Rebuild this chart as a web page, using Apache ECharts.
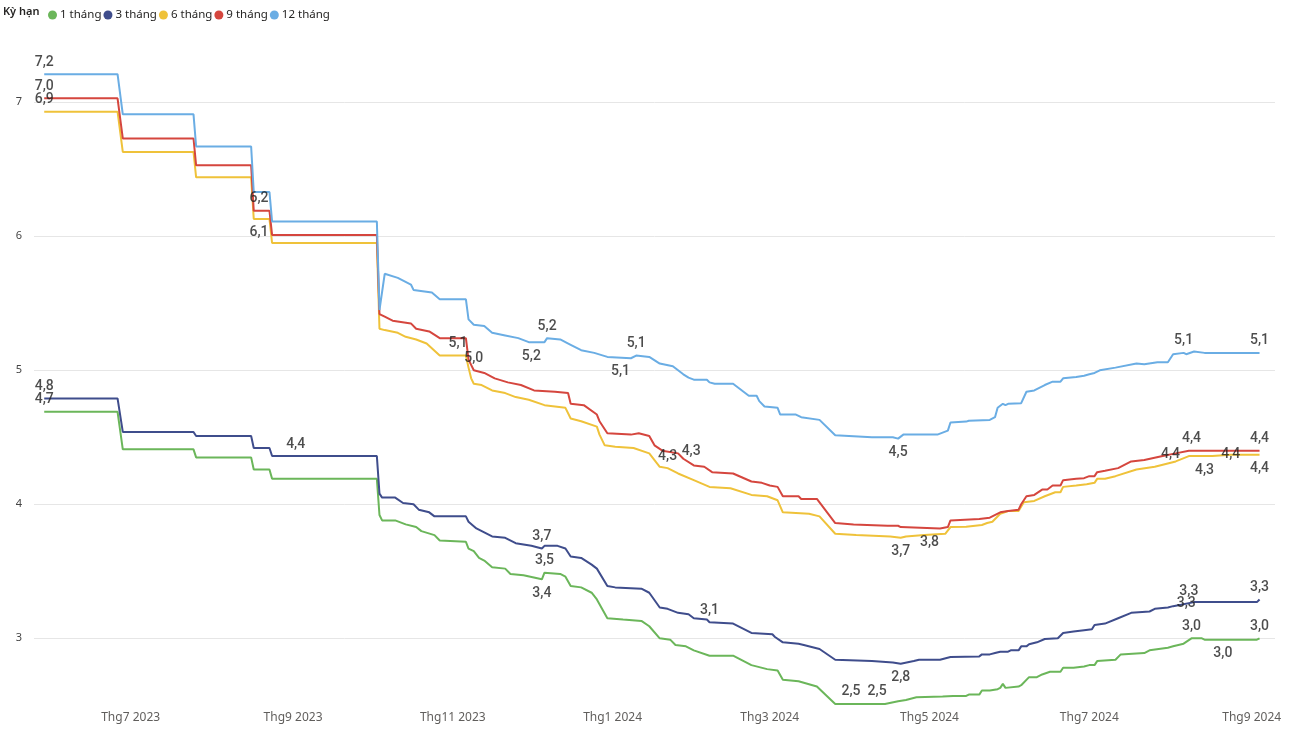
<!DOCTYPE html>
<html>
<head>
<meta charset="utf-8">
<script src="https://cdn.jsdelivr.net/npm/echarts/dist/echarts.min.js"></script>
<style>html,body{margin:0;padding:0;background:#fff}#c{width:1297px;height:734px}</style>
</head>
<body>
<div id="c"></div>
<script>
// ---------- DATA ----------
const seriesNames = ['1 tháng', '3 tháng', '6 tháng', '9 tháng', '12 tháng'];

const s1m = [['2023-05-29',4.69],['2023-06-26',4.69],['2023-06-28',4.41],['2023-07-25',4.41],['2023-07-26',4.35],['2023-08-16',4.35],['2023-08-17',4.26],['2023-08-23',4.26],['2023-08-24',4.19],['2023-10-03',4.19],['2023-10-04',3.92],['2023-10-05',3.88],['2023-10-10',3.88],['2023-10-14',3.85],['2023-10-18',3.83],['2023-10-20',3.80],['2023-10-25',3.77],['2023-10-27',3.73],['2023-11-06',3.72],['2023-11-07',3.67],['2023-11-09',3.65],['2023-11-11',3.60],['2023-11-13',3.58],['2023-11-16',3.53],['2023-11-21',3.52],['2023-11-23',3.48],['2023-11-28',3.47],['2023-12-05',3.44],['2023-12-06',3.49],['2023-12-12',3.48],['2023-12-14',3.46],['2023-12-16',3.39],['2023-12-20',3.38],['2023-12-24',3.34],['2023-12-26',3.29],['2023-12-30',3.15],['2024-01-05',3.14],['2024-01-12',3.13],['2024-01-15',3.09],['2024-01-19',3.00],['2024-01-23',2.99],['2024-01-25',2.95],['2024-01-29',2.94],['2024-02-01',2.91],['2024-02-07',2.87],['2024-02-16',2.87],['2024-02-23',2.80],['2024-02-29',2.77],['2024-03-04',2.76],['2024-03-06',2.69],['2024-03-12',2.68],['2024-03-19',2.64],['2024-03-26',2.51],['2024-04-14',2.51],['2024-04-19',2.53],['2024-04-22',2.54],['2024-04-26',2.56],['2024-05-06',2.565],['2024-05-10',2.57],['2024-05-15',2.57],['2024-05-16',2.58],['2024-05-20',2.58],['2024-05-21',2.61],['2024-05-24',2.61],['2024-05-27',2.62],['2024-05-28',2.63],['2024-05-29',2.66],['2024-05-30',2.63],['2024-06-04',2.64],['2024-06-05',2.65],['2024-06-08',2.71],['2024-06-11',2.71],['2024-06-13',2.73],['2024-06-16',2.75],['2024-06-20',2.75],['2024-06-21',2.78],['2024-06-25',2.78],['2024-06-29',2.79],['2024-07-01',2.80],['2024-07-03',2.80],['2024-07-04',2.83],['2024-07-11',2.84],['2024-07-13',2.88],['2024-07-22',2.89],['2024-07-24',2.91],['2024-07-31',2.93],['2024-08-02',2.94],['2024-08-06',2.96],['2024-08-09',3.00],['2024-08-13',3.00],['2024-08-14',2.99],['2024-09-03',2.99],['2024-09-04',3.00]];

const s3m = [['2023-05-29',4.79],['2023-06-26',4.79],['2023-06-28',4.54],['2023-07-25',4.54],['2023-07-26',4.51],['2023-08-16',4.51],['2023-08-17',4.42],['2023-08-23',4.42],['2023-08-24',4.36],['2023-10-03',4.36],['2023-10-04',4.08],['2023-10-05',4.05],['2023-10-10',4.05],['2023-10-13',4.01],['2023-10-17',4.00],['2023-10-19',3.96],['2023-10-23',3.94],['2023-10-25',3.91],['2023-11-06',3.91],['2023-11-07',3.87],['2023-11-10',3.82],['2023-11-16',3.76],['2023-11-21',3.75],['2023-11-25',3.71],['2023-12-01',3.69],['2023-12-05',3.67],['2023-12-06',3.69],['2023-12-11',3.69],['2023-12-14',3.67],['2023-12-16',3.61],['2023-12-20',3.60],['2023-12-24',3.55],['2023-12-26',3.52],['2023-12-30',3.39],['2024-01-02',3.38],['2024-01-12',3.37],['2024-01-15',3.34],['2024-01-19',3.23],['2024-01-22',3.22],['2024-01-26',3.19],['2024-01-30',3.18],['2024-02-01',3.15],['2024-02-06',3.14],['2024-02-07',3.12],['2024-02-16',3.11],['2024-02-23',3.04],['2024-03-02',3.03],['2024-03-03',3.01],['2024-03-06',2.97],['2024-03-12',2.96],['2024-03-14',2.95],['2024-03-20',2.92],['2024-03-26',2.84],['2024-04-09',2.83],['2024-04-17',2.82],['2024-04-20',2.81],['2024-04-25',2.83],['2024-04-27',2.84],['2024-05-05',2.84],['2024-05-09',2.86],['2024-05-20',2.865],['2024-05-21',2.88],['2024-05-24',2.88],['2024-05-26',2.89],['2024-05-28',2.90],['2024-05-31',2.90],['2024-06-01',2.91],['2024-06-04',2.91],['2024-06-05',2.94],['2024-06-07',2.94],['2024-06-08',2.955],['2024-06-11',2.97],['2024-06-14',2.995],['2024-06-19',3.00],['2024-06-21',3.04],['2024-06-25',3.05],['2024-06-29',3.06],['2024-07-02',3.067],['2024-07-03',3.10],['2024-07-07',3.11],['2024-07-12',3.15],['2024-07-17',3.19],['2024-07-24',3.20],['2024-07-26',3.22],['2024-07-31',3.23],['2024-08-02',3.24],['2024-08-05',3.25],['2024-08-10',3.27],['2024-08-22',3.27],['2024-09-03',3.27],['2024-09-04',3.29]];

const s6m = [['2023-05-29',6.93],['2023-06-26',6.93],['2023-06-28',6.63],['2023-07-25',6.63],['2023-07-26',6.44],['2023-08-16',6.44],['2023-08-17',6.13],['2023-08-23',6.13],['2023-08-24',5.95],['2023-10-03',5.95],['2023-10-04',5.31],['2023-10-06',5.30],['2023-10-11',5.28],['2023-10-14',5.25],['2023-10-18',5.23],['2023-10-22',5.20],['2023-10-27',5.11],['2023-11-06',5.11],['2023-11-07',5.02],['2023-11-08',4.94],['2023-11-09',4.90],['2023-11-12',4.89],['2023-11-16',4.85],['2023-11-21',4.83],['2023-11-25',4.80],['2023-11-30',4.78],['2023-12-06',4.74],['2023-12-10',4.73],['2023-12-14',4.72],['2023-12-16',4.64],['2023-12-20',4.62],['2023-12-26',4.58],['2023-12-27',4.52],['2023-12-29',4.44],['2024-01-02',4.43],['2024-01-09',4.42],['2024-01-15',4.38],['2024-01-19',4.28],['2024-01-22',4.27],['2024-01-26',4.23],['2024-02-01',4.18],['2024-02-07',4.13],['2024-02-15',4.12],['2024-02-23',4.07],['2024-02-29',4.06],['2024-03-04',4.03],['2024-03-06',3.94],['2024-03-16',3.93],['2024-03-20',3.91],['2024-03-26',3.78],['2024-04-03',3.77],['2024-04-16',3.76],['2024-04-20',3.75],['2024-04-22',3.76],['2024-04-29',3.77],['2024-05-07',3.78],['2024-05-09',3.83],['2024-05-15',3.833],['2024-05-21',3.846],['2024-05-23',3.86],['2024-05-25',3.87],['2024-05-28',3.93],['2024-05-31',3.95],['2024-06-04',3.95],['2024-06-06',4.015],['2024-06-10',4.025],['2024-06-14',4.06],['2024-06-18',4.09],['2024-06-20',4.09],['2024-06-21',4.13],['2024-06-26',4.14],['2024-06-30',4.15],['2024-07-03',4.16],['2024-07-04',4.19],['2024-07-07',4.19],['2024-07-11',4.21],['2024-07-19',4.26],['2024-07-26',4.28],['2024-08-03',4.32],['2024-08-08',4.36],['2024-08-17',4.36],['2024-08-24',4.37],['2024-09-04',4.37]];

const s9m = [['2023-05-29',7.03],['2023-06-26',7.03],['2023-06-28',6.73],['2023-07-25',6.73],['2023-07-26',6.53],['2023-08-16',6.53],['2023-08-17',6.19],['2023-08-23',6.19],['2023-08-24',6.01],['2023-10-03',6.01],['2023-10-04',5.42],['2023-10-06',5.40],['2023-10-09',5.37],['2023-10-16',5.35],['2023-10-18',5.31],['2023-10-23',5.29],['2023-10-27',5.24],['2023-11-06',5.24],['2023-11-07',5.08],['2023-11-09',5.00],['2023-11-13',4.98],['2023-11-17',4.94],['2023-11-22',4.91],['2023-11-27',4.89],['2023-12-02',4.85],['2023-12-10',4.84],['2023-12-15',4.83],['2023-12-16',4.75],['2023-12-21',4.74],['2023-12-26',4.67],['2023-12-27',4.62],['2023-12-30',4.53],['2024-01-08',4.52],['2024-01-11',4.53],['2024-01-15',4.51],['2024-01-17',4.44],['2024-01-20',4.40],['2024-01-26',4.38],['2024-01-28',4.34],['2024-02-01',4.29],['2024-02-05',4.28],['2024-02-08',4.24],['2024-02-16',4.23],['2024-02-23',4.17],['2024-02-27',4.16],['2024-03-01',4.14],['2024-03-04',4.13],['2024-03-06',4.06],['2024-03-12',4.06],['2024-03-13',4.04],['2024-03-19',4.04],['2024-03-26',3.86],['2024-04-02',3.85],['2024-04-15',3.84],['2024-04-19',3.84],['2024-04-20',3.83],['2024-05-05',3.82],['2024-05-08',3.83],['2024-05-09',3.88],['2024-05-20',3.89],['2024-05-24',3.90],['2024-05-28',3.94],['2024-05-31',3.95],['2024-06-04',3.96],['2024-06-05',4.00],['2024-06-07',4.06],['2024-06-10',4.07],['2024-06-13',4.11],['2024-06-15',4.11],['2024-06-17',4.14],['2024-06-20',4.14],['2024-06-21',4.18],['2024-06-26',4.19],['2024-06-29',4.195],['2024-07-01',4.21],['2024-07-03',4.21],['2024-07-04',4.24],['2024-07-07',4.25],['2024-07-12',4.27],['2024-07-17',4.32],['2024-07-22',4.33],['2024-07-29',4.36],['2024-08-03',4.38],['2024-08-08',4.40],['2024-09-04',4.40]];

const s12m = [['2023-05-29',7.21],['2023-06-26',7.21],['2023-06-28',6.91],['2023-07-25',6.91],['2023-07-26',6.67],['2023-08-16',6.67],['2023-08-17',6.33],['2023-08-23',6.33],['2023-08-24',6.11],['2023-10-03',6.11],['2023-10-04',5.45],['2023-10-06',5.72],['2023-10-11',5.69],['2023-10-16',5.64],['2023-10-17',5.60],['2023-10-24',5.58],['2023-10-27',5.53],['2023-11-06',5.53],['2023-11-07',5.38],['2023-11-09',5.34],['2023-11-13',5.33],['2023-11-16',5.28],['2023-11-21',5.26],['2023-11-26',5.24],['2023-11-30',5.21],['2023-12-06',5.21],['2023-12-07',5.24],['2023-12-12',5.23],['2023-12-16',5.19],['2023-12-20',5.15],['2023-12-25',5.13],['2023-12-30',5.10],['2024-01-08',5.09],['2024-01-10',5.11],['2024-01-15',5.10],['2024-01-19',5.05],['2024-01-24',5.03],['2024-01-28',4.97],['2024-01-30',4.945],['2024-02-01',4.93],['2024-02-06',4.93],['2024-02-07',4.91],['2024-02-09',4.90],['2024-02-16',4.90],['2024-02-22',4.81],['2024-02-25',4.81],['2024-02-26',4.77],['2024-02-28',4.73],['2024-03-04',4.72],['2024-03-05',4.67],['2024-03-11',4.67],['2024-03-13',4.65],['2024-03-20',4.63],['2024-03-26',4.515],['2024-04-09',4.50],['2024-04-17',4.50],['2024-04-19',4.49],['2024-04-21',4.52],['2024-05-04',4.52],['2024-05-08',4.55],['2024-05-09',4.61],['2024-05-15',4.617],['2024-05-16',4.624],['2024-05-24',4.63],['2024-05-26',4.65],['2024-05-27',4.72],['2024-05-29',4.75],['2024-05-30',4.74],['2024-05-31',4.75],['2024-06-05',4.755],['2024-06-07',4.84],['2024-06-10',4.85],['2024-06-14',4.89],['2024-06-17',4.915],['2024-06-20',4.915],['2024-06-21',4.94],['2024-06-26',4.95],['2024-06-29',4.96],['2024-07-01',4.97],['2024-07-03',4.98],['2024-07-05',5.00],['2024-07-11',5.02],['2024-07-19',5.05],['2024-07-22',5.045],['2024-07-27',5.06],['2024-07-31',5.06],['2024-08-02',5.12],['2024-08-06',5.13],['2024-08-07',5.12],['2024-08-10',5.14],['2024-08-14',5.13],['2024-09-04',5.13]];

// data labels shown on the chart: [series, date, text, placement]
const labelSpecs = [
  ['12 tháng','2023-05-29','7,2','top'],
  ['9 tháng','2023-05-29','7,0','top'],
  ['6 tháng','2023-05-29','6,9','top'],
  ['3 tháng','2023-05-29','4,8','top'],
  ['1 tháng','2023-05-29','4,7','top'],
  ['9 tháng','2023-08-19','6,2','top'],
  ['6 tháng','2023-08-19','6,1','bottom'],
  ['3 tháng','2023-09-02','4,4','top'],
  ['6 tháng','2023-11-03','5,1','top'],
  ['9 tháng','2023-11-09','5,0','top'],
  ['12 tháng','2023-12-07','5,2','top'],
  ['12 tháng','2023-12-01','5,2','bottom'],
  ['12 tháng','2024-01-10','5,1','top'],
  ['12 tháng','2024-01-04','5,1','bottom'],
  ['6 tháng','2024-01-22','4,3','top'],
  ['9 tháng','2024-01-31','4,3','top'],
  ['3 tháng','2023-12-05','3,7','top'],
  ['1 tháng','2023-12-06','3,5','top'],
  ['1 tháng','2023-12-05','3,4','bottom'],
  ['3 tháng','2024-02-07','3,1','top'],
  ['12 tháng','2024-04-19','4,5','bottom'],
  ['6 tháng','2024-04-20','3,7','bottom'],
  ['9 tháng','2024-05-01','3,8','bottom'],
  ['1 tháng','2024-04-01','2,5','top'],
  ['1 tháng','2024-04-11','2,5','top'],
  ['3 tháng','2024-04-20','2,8','bottom'],
  ['12 tháng','2024-08-06','5,1','top'],
  ['12 tháng','2024-09-04','5,1','top'],
  ['9 tháng','2024-08-01','4,4','inside'],
  ['9 tháng','2024-08-09','4,4','top'],
  ['6 tháng','2024-08-24','4,4','inside'],
  ['6 tháng','2024-08-14','4,3','bottom'],
  ['9 tháng','2024-09-04','4,4','top'],
  ['6 tháng','2024-09-04','4,4','bottom'],
  ['3 tháng','2024-08-08','3,3','top'],
  ['3 tháng','2024-08-07','3,3','inside'],
  ['3 tháng','2024-09-04','3,3','top'],
  ['1 tháng','2024-08-09','3,0','top'],
  ['1 tháng','2024-08-21','3,0','bottom'],
  ['1 tháng','2024-09-04','3,0','top']
];

// ---------- BUILD ----------
const seriesData = [s1m, s3m, s6m, s9m, s12m];
const colors = ['#6BB65A', '#3F4D8C', '#EFC23A', '#D5463E', '#6AADE4'];
const DAY = 86400000;
function ts(s) { const p = s.split('-').map(Number); return new Date(p[0], p[1] - 1, p[2]).getTime(); }
function valueAt(arr, t) {
  for (let i = 0; i < arr.length; i++) {
    const ti = ts(arr[i][0]);
    if (ti === t) return arr[i][1];
    if (ti > t && i > 0) {
      const t0 = ts(arr[i - 1][0]);
      return arr[i - 1][1] + (arr[i][1] - arr[i - 1][1]) * (t - t0) / (ti - t0);
    }
  }
  return arr[arr.length - 1][1];
}
const base = new Date(2023, 6, 1).getTime();

const lineSeries = seriesNames.map((n, i) => ({
  name: n, type: 'line', data: seriesData[i].map(p => [ts(p[0]), p[1]]),
  showSymbol: false, symbol: 'none', lineStyle: { width: 2, color: colors[i] },
  itemStyle: { color: colors[i] }, emphasis: { disabled: true }, z: 2 + i
}));

const labelSeries = {
  type: 'scatter', symbolSize: 0, silent: true, z: 20,
  data: labelSpecs.map(([n, d, text, pos]) => {
    const t = ts(d);
    return {
      value: [t, valueAt(seriesData[seriesNames.indexOf(n)], t)],
      label: {
        show: true, formatter: text, position: pos,
        distance: pos === 'top' ? 5 : 7,
        fontFamily: 'Roboto', fontSize: 14, fontWeight: 500, color: '#1f1f1f'
      }
    };
  })
};

const chart = echarts.init(document.getElementById('c'), null, { renderer: 'canvas' });
chart.setOption({
  animation: false,
  backgroundColor: '#fff',
  title: {
    text: 'Kỳ hạn', left: 3, top: 6, padding: 0,
    textStyle: { fontFamily: 'Noto Sans', fontSize: 11, fontWeight: 600, color: '#252423' }
  },
  legend: {
    data: seriesNames, left: 43, top: 4, icon: 'circle', itemWidth: 9, itemHeight: 9, itemGap: 2,
    textStyle: { fontFamily: 'Noto Sans', fontSize: 11.5, color: '#252423', padding: [0, 0, 0, -2] }
  },
  grid: { left: 34, right: 22, top: 35.3, bottom: 28.7, containLabel: false },
  xAxis: {
    type: 'time',
    min: base - 36.9 * DAY, max: base + 436.9 * DAY,
    minInterval: 61 * DAY, maxInterval: 61 * DAY,
    axisLine: { show: false }, axisTick: { show: false }, splitLine: { show: false },
    axisLabel: {
      margin: 6, fontFamily: 'Noto Sans', fontSize: 12, color: '#605E5C',
      showMinLabel: false, showMaxLabel: false,
      formatter: function (v) {
        const d = new Date(v);
        if (d.getDate() !== 1 || d.getMonth() % 2 !== 0 || d.getHours() !== 0) return '';
        return 'Thg' + (d.getMonth() + 1) + ' ' + d.getFullYear();
      }
    }
  },
  yAxis: {
    type: 'value', min: 2.5, max: 7.5, interval: 0.5,
    axisLine: { show: false }, axisTick: { show: false },
    splitLine: { show: true, lineStyle: { color: ['rgba(0,0,0,0)', '#E6E6E6'], width: 1 } },
    axisLabel: {
      margin: 12, fontFamily: 'Noto Sans', fontSize: 11, color: '#444',
      formatter: v => (Math.abs(v - Math.round(v)) < 1e-9 ? String(Math.round(v)) : '')
    }
  },
  tooltip: { show: false },
  series: lineSeries.concat([labelSeries])
});
</script>
</body>
</html>
